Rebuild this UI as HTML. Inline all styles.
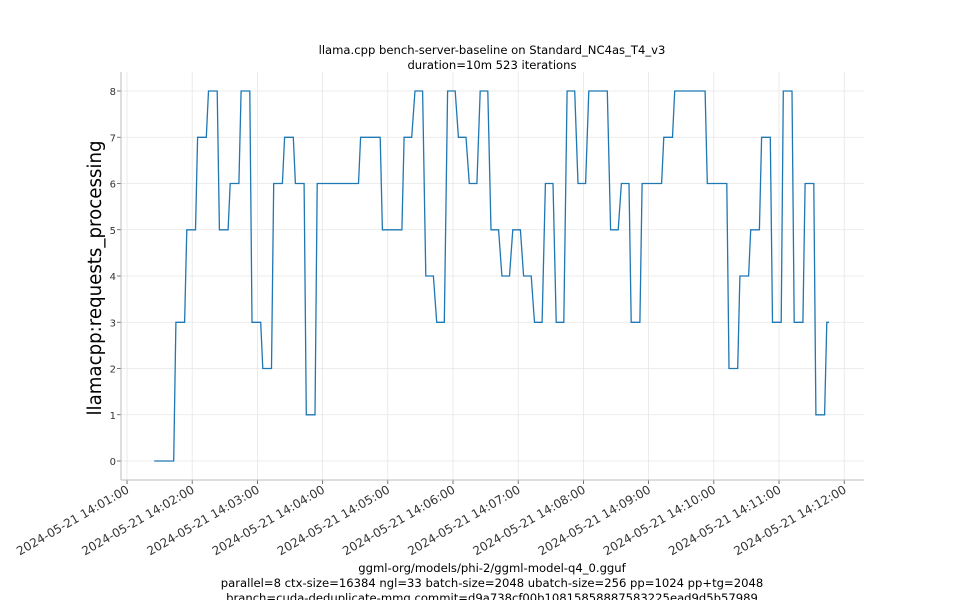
<!DOCTYPE html>
<html><head><meta charset="utf-8"><style>
body{margin:0;background:#fff;}
svg{display:block;font-family:"DejaVu Sans","Liberation Sans",sans-serif;}
</style></head><body>
<svg id="chart" width="960" height="600">
<g>
<text x="492" y="54" font-size="11.6" text-anchor="middle">llama.cpp bench-server-baseline on Standard_NC4as_T4_v3</text>
<text x="492" y="69" font-size="11.6" text-anchor="middle">duration=10m 523 iterations</text>
</g>
<g id="grid"></g>
<g id="yaxis"></g>
<g id="xaxis"></g>
<text transform="translate(101,278) rotate(-90)" font-size="18.2" text-anchor="middle">llamacpp:requests_processing</text>
<path id="series" fill="none" stroke="#1f77b4" stroke-width="1.3"/>
<g font-size="11.6" text-anchor="middle">
<text x="492" y="572">ggml-org/models/phi-2/ggml-model-q4_0.gguf</text>
<text x="492" y="587">parallel=8 ctx-size=16384 ngl=33 batch-size=2048 ubatch-size=256 pp=1024 pp+tg=2048</text>
<text x="492" y="602">branch=cuda-deduplicate-mmq commit=d9a738cf00b10815858887583225ead9d5b57989</text>
</g>
</svg>
<script>
const segStarts=[25,45,55,65,75,85,95,105,115,125,135,145,155,165,175,215,235,255,265,275,285,295,305,315,325,335,345,355,365,375,385,395,405,415,425,445,455,464,474,494,504,534,554,564,574,584,594,604,614,624,634,644];
const segEnds=[43,53,63,73,83,93,103,113,123,133,143,153,163,173,213,233,253,262,272,282,292,302,312,322,332,342,352,362,372,382,392,402,412,422,442,452,462,472,492,502,532,552,562,572,582,592,602,612,622,632,642,646];
const segValues=[0,3,5,7,8,5,6,8,3,2,6,7,6,1,6,7,5,7,8,4,3,8,7,6,8,5,4,5,4,3,6,3,8,6,8,5,6,3,6,7,8,6,2,4,5,7,3,8,3,6,1,3];
const yTicks=[0,1,2,3,4,5,6,7,8];
const xTickMinutes=[0,1,2,3,4,5,6,7,8,9,10,11];
const xTickLabels=["2024-05-21 14:01:00","2024-05-21 14:02:00","2024-05-21 14:03:00","2024-05-21 14:04:00","2024-05-21 14:05:00","2024-05-21 14:06:00","2024-05-21 14:07:00","2024-05-21 14:08:00","2024-05-21 14:09:00","2024-05-21 14:10:00","2024-05-21 14:11:00","2024-05-21 14:12:00"];

const NS="http://www.w3.org/2000/svg";
const L=121,R=864,T=72,B=480;
const xs=t=>127+t*65.2/60;
const ys=v=>461-v*46.25;
function mk(tag,attrs,parent){const e=document.createElementNS(NS,tag);for(const k in attrs)e.setAttribute(k,attrs[k]);parent.appendChild(e);return e;}
const grid=document.getElementById('grid'),ya=document.getElementById('yaxis'),xa=document.getElementById('xaxis');
yTicks.forEach(v=>{
  const y=ys(v);
  const g=mk('line',{x1:L,x2:R,y1:y,y2:y,stroke:'#e6e6e6','stroke-width':0.8},grid);
  
  
  const tk=mk('line',{x1:L-4,x2:L,y1:y,y2:y,stroke:'#555','stroke-width':0.8},ya);
  
  
  const tx=mk('text',{x:L-5,y:y+4,'font-size':10,'text-anchor':'end',fill:'#333'},ya);
  tx.textContent=v;
  
  
});
xTickMinutes.forEach((m,i)=>{
  const x=xs(m*60);
  const g=mk('line',{x1:x,x2:x,y1:T,y2:B,stroke:'#e6e6e6','stroke-width':0.8},grid);
  
  
  const tk=mk('line',{x1:x,x2:x,y1:B,y2:B+4,stroke:'#555','stroke-width':0.8},xa);
  
  
  const tx=mk('text',{transform:`translate(${x+3},${B+12}) rotate(-30)`,'font-size':12,'text-anchor':'end',fill:'#333'},xa);
  tx.textContent=xTickLabels[i];
  
  
});
const ls=mk('line',{x1:L,x2:L,y1:T,y2:B,stroke:'#bbb','stroke-width':1},ya);


const bs=mk('line',{x1:L,x2:R,y1:B,y2:B,stroke:'#bbb','stroke-width':1},xa);


let d='';
segValues.forEach((v,i)=>{
  d+=(i?'L':'M')+xs(segStarts[i]).toFixed(1)+','+ys(v).toFixed(1)+'L'+xs(segEnds[i]).toFixed(1)+','+ys(v).toFixed(1);
});
document.getElementById('series').setAttribute('d',d);
</script>
</body></html>
